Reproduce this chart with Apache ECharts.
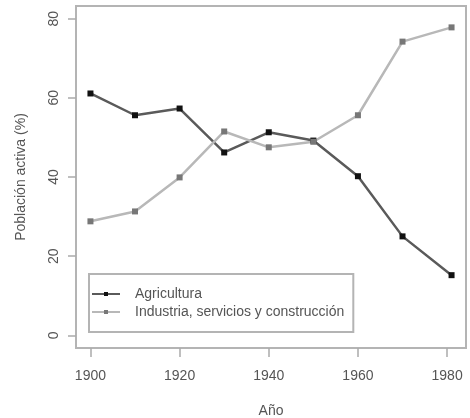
<!DOCTYPE html>
<html>
<head>
<meta charset="utf-8">
<script src="https://cdn.jsdelivr.net/npm/echarts@6/dist/echarts.min.js"></script>
<style>
  html, body { margin: 0; padding: 0; background: #fff; }
  #chart { width: 470px; height: 418px; }
</style>
</head>
<body>
<div id="chart"></div>
<script>
// Census years and share of the active population by sector (%)
const years = [1900, 1910, 1920, 1930, 1940, 1950, 1960, 1970, 1981];
const agricultura = [61.1, 55.6, 57.3, 46.2, 51.3, 49.2, 40.2, 25.0, 15.2];
const industria = [28.8, 31.3, 39.9, 51.5, 47.5, 48.9, 55.6, 74.2, 77.8];
const xTicks = [1900, 1920, 1940, 1960, 1980];
const yTicks = [0, 20, 40, 60, 80];
const seriesNames = ['Agricultura', 'Industria, servicios y construcción'];

const pairs = vals => years.map((y, i) => [y, vals[i]]);
const font = 'Liberation Sans, Arial, sans-serif';
const textColor = '#555';

const chart = echarts.init(document.getElementById('chart'), null, { renderer: 'canvas' });
chart.setOption({
  animation: false,
  backgroundColor: '#fff',
  grid: {
    left: 76, top: 6, width: 390, height: 342,
    containLabel: false, outerBoundsMode: 'none',
    show: true, borderColor: '#b4b4b4', borderWidth: 2, backgroundColor: 'transparent'
  },
  legend: {
    left: 89, top: 274, orient: 'vertical',
    data: seriesNames,
    itemWidth: 28, itemHeight: 5, itemGap: 4,
    padding: [13, 9, 13, 2],
    borderColor: '#b4b4b4', borderWidth: 2,
    textStyle: { fontFamily: font, fontSize: 14, lineHeight: 14, color: textColor, padding: [0, 0, 0, 10] }
  },
  xAxis: {
    type: 'value', min: 1896.76, max: 1984.24,
    name: 'Año', nameLocation: 'middle', nameGap: 56,
    nameTextStyle: { fontFamily: font, fontSize: 14, color: textColor },
    splitLine: { show: false },
    axisLine: { show: false, onZero: false },
    axisTick: { show: true, inside: false, length: 9, customValues: xTicks, lineStyle: { color: '#aaa', width: 1.5 } },
    axisLabel: { customValues: xTicks, margin: 21, fontFamily: font, fontSize: 14, color: textColor,
                 formatter: v => String(v) }
  },
  yAxis: {
    type: 'value', min: -3.2, max: 83.2,
    name: 'Población activa (%)', nameLocation: 'middle', nameGap: 48, nameRotate: 90,
    nameTextStyle: { fontFamily: font, fontSize: 14, color: textColor },
    splitLine: { show: false },
    axisLine: { show: false, onZero: false },
    axisTick: { show: true, inside: false, length: 8, customValues: yTicks, lineStyle: { color: '#aaa', width: 1.5 } },
    axisLabel: { customValues: yTicks, rotate: 90, margin: 15, fontFamily: font, fontSize: 14, color: textColor }
  },
  series: [
    {
      name: seriesNames[0], type: 'line', data: pairs(agricultura),
      symbol: 'rect', symbolSize: 6,
      lineStyle: { color: '#5a5a5a', width: 2.5 },
      itemStyle: { color: '#111' }
    },
    {
      name: seriesNames[1], type: 'line', data: pairs(industria),
      symbol: 'rect', symbolSize: 6,
      lineStyle: { color: '#b8b8b8', width: 2.5 },
      itemStyle: { color: '#777' }
    }
  ]
});
</script>
</body>
</html>
